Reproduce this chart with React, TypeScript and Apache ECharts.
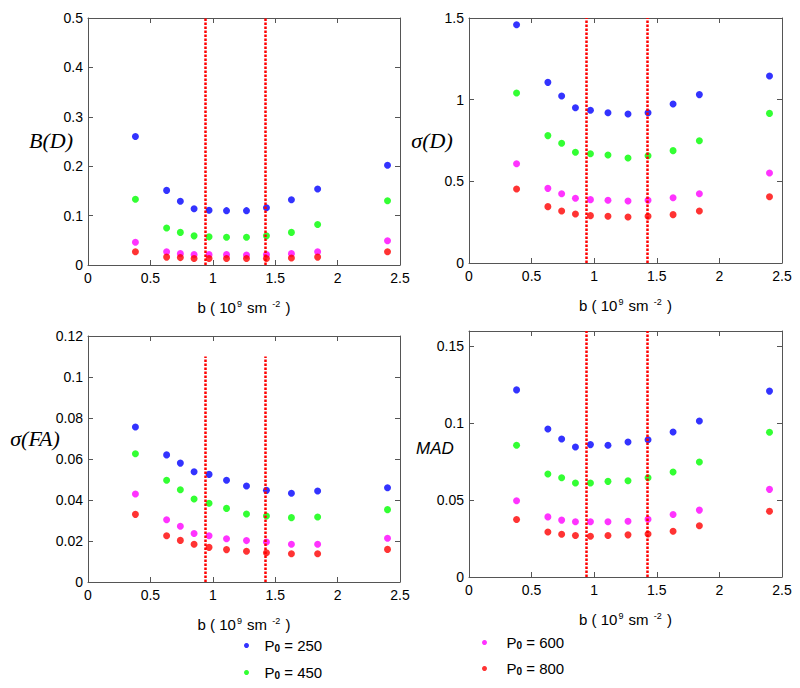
import React, { useEffect, useRef } from "react";
import * as echarts from "echarts";

// b values (10^9 s m^-2)
const bValues = [0.38, 0.63, 0.74, 0.85, 0.97, 1.11, 1.27, 1.43, 1.63, 1.84, 2.4];

const legendNames = ["P0 = 250", "P0 = 450", "P0 = 600", "P0 = 800"];
const colors = ["#0000ff", "#00ff00", "#ff00ff", "#ff0000"];

// B(D)
const biasP250 = [0.26, 0.151, 0.129, 0.114, 0.111, 0.11, 0.11, 0.116, 0.132, 0.154, 0.202];
const biasP450 = [0.133, 0.075, 0.066, 0.059, 0.057, 0.056, 0.056, 0.059, 0.066, 0.082, 0.13];
const biasP600 = [0.046, 0.027, 0.023, 0.021, 0.021, 0.021, 0.02, 0.021, 0.023, 0.027, 0.049];
const biasP800 = [0.027, 0.016, 0.015, 0.013, 0.013, 0.013, 0.013, 0.013, 0.014, 0.016, 0.027];

// sigma(D)
const sdP250 = [1.459, 1.106, 1.022, 0.951, 0.935, 0.92, 0.912, 0.92, 0.973, 1.031, 1.145];
const sdP450 = [1.041, 0.78, 0.733, 0.678, 0.669, 0.661, 0.643, 0.657, 0.688, 0.749, 0.916];
const sdP600 = [0.608, 0.457, 0.424, 0.396, 0.388, 0.384, 0.38, 0.384, 0.4, 0.424, 0.551];
const sdP800 = [0.453, 0.345, 0.318, 0.3, 0.29, 0.286, 0.282, 0.286, 0.296, 0.318, 0.406];

// sigma(FA)
const sfaP250 = [0.0756, 0.062, 0.058, 0.0538, 0.0525, 0.0496, 0.0468, 0.0447, 0.0433, 0.0444, 0.046];
const sfaP450 = [0.0626, 0.0496, 0.045, 0.0405, 0.0384, 0.0359, 0.0332, 0.0322, 0.0314, 0.0317, 0.0353];
const sfaP600 = [0.0429, 0.0304, 0.0272, 0.0237, 0.0226, 0.0211, 0.0202, 0.0195, 0.0184, 0.0184, 0.0213];
const sfaP800 = [0.033, 0.0226, 0.0203, 0.0184, 0.0169, 0.0158, 0.015, 0.0143, 0.0138, 0.0138, 0.0159];

// MAD
const madP250 = [0.1217, 0.0963, 0.0898, 0.0846, 0.0861, 0.0857, 0.0878, 0.0893, 0.0943, 0.1015, 0.1209];
const madP450 = [0.0857, 0.067, 0.0646, 0.0611, 0.0611, 0.0622, 0.0626, 0.0646, 0.0683, 0.0748, 0.0941];
const madP600 = [0.0496, 0.0391, 0.037, 0.0359, 0.0359, 0.0359, 0.0363, 0.0376, 0.0407, 0.0435, 0.057];
const madP800 = [0.0374, 0.0293, 0.0278, 0.027, 0.0265, 0.027, 0.0274, 0.028, 0.0298, 0.0333, 0.0428];

// vertical reference lines (b values)
const refLines = [0.94, 1.42];

// axis settings per panel
const yMax = [0.5, 1.5, 0.12, 0.16];
const yInterval = [0.1, 0.5, 0.02, 0.05];
const refLineTop = [0.5, 1.5, 0.11, 0.16];
const yTitles = ["B(D)", "σ(D)", "σ(FA)", "MAD"];

const panelData = [
  [biasP250, biasP450, biasP600, biasP800],
  [sdP250, sdP450, sdP600, sdP800],
  [sfaP250, sfaP450, sfaP600, sfaP800],
  [madP250, madP450, madP600, madP800],
];

const grids = [
  { left: 88, top: 18, width: 312, height: 247 },
  { left: 469, top: 18, width: 313, height: 245 },
  { left: 88, top: 336, width: 312, height: 246 },
  { left: 469, top: 331, width: 313, height: 246 },
];

const yTitlePos = [
  { x: 51, y: 140, serif: true },
  { x: 432, y: 140, serif: true },
  { x: 35, y: 438, serif: true },
  { x: 435, y: 448, serif: false },
];

const FONT = "Arial, 'Liberation Sans', sans-serif";
const AXIS_COLOR = "#555";

export default function App() {
  const ref = useRef<HTMLDivElement>(null);
  useEffect(() => {
    if (!ref.current) return;
    const chart = echarts.init(ref.current, undefined, { renderer: "svg" });

    const xAxes: any[] = [];
    const yAxes: any[] = [];
    for (let g = 0; g < 4; g++) {
      xAxes.push({
        type: "value",
        gridIndex: g,
        min: 0,
        max: 2.5,
        interval: 0.5,
        position: "bottom",
        name: "{n|b ( 10}{s|9}{n| sm }{s|-2}{n| )}",
        nameLocation: "middle",
        nameGap: 34,
        nameTextStyle: {
          rich: {
            n: { fontFamily: FONT, fontSize: 15, color: "#000" },
            s: { fontFamily: FONT, fontSize: 9, color: "#000", verticalAlign: "top", padding: [0, 1, 8, 1] },
          },
        },
        axisLine: { show: true, onZero: false, lineStyle: { color: AXIS_COLOR } },
        axisTick: { show: true, inside: true, length: 5, lineStyle: { color: AXIS_COLOR } },
        axisLabel: { color: "#000", fontSize: 14, fontFamily: FONT, margin: 6 },
        splitLine: { show: false },
      });
      yAxes.push({
        type: "value",
        gridIndex: g,
        min: 0,
        max: yMax[g],
        interval: yInterval[g],
        position: "left",
        axisLine: { show: true, onZero: false, lineStyle: { color: AXIS_COLOR } },
        axisTick: { show: true, inside: true, length: 5, lineStyle: { color: AXIS_COLOR } },
        axisLabel: { color: "#000", fontSize: 14, fontFamily: FONT, margin: 5, showMaxLabel: g === 3 ? false : true },
        splitLine: { show: false },
      });
    }
    for (let g = 0; g < 4; g++) {
      xAxes.push({
        type: "value",
        gridIndex: g,
        min: 0,
        max: 2.5,
        interval: 0.5,
        position: "top",
        axisLine: { show: true, onZero: false, lineStyle: { color: AXIS_COLOR } },
        axisTick: { show: true, inside: true, length: 5, lineStyle: { color: AXIS_COLOR } },
        axisLabel: { show: false },
        splitLine: { show: false },
      });
      yAxes.push({
        type: "value",
        gridIndex: g,
        min: 0,
        max: yMax[g],
        interval: yInterval[g],
        position: "right",
        axisLine: { show: true, onZero: false, lineStyle: { color: AXIS_COLOR } },
        axisTick: { show: true, inside: true, length: 5, lineStyle: { color: AXIS_COLOR } },
        axisLabel: { show: false },
        splitLine: { show: false },
      });
    }

    const series: any[] = [];
    for (let g = 0; g < 4; g++) {
      series.push({
        type: "line",
        name: "refLines" + g,
        xAxisIndex: g,
        yAxisIndex: g,
        data: [],
        silent: true,
        markLine: {
          silent: true,
          symbol: "none",
          label: { show: false },
          lineStyle: { color: "#ff0000", type: [2.5, 1.5], width: 2.5 },
          data: refLines.map((b) => [
            { coord: [b, 0] },
            { coord: [b, refLineTop[g]] },
          ]),
        },
      });
      for (let s = 0; s < 4; s++) {
        series.push({
          type: "scatter",
          name: legendNames[s],
          xAxisIndex: g,
          yAxisIndex: g,
          symbol: "circle",
          symbolSize: 7,
          itemStyle: { color: colors[s] },
          data: bValues.map((b, i) => [b, panelData[g][s][i]]),
          z: 3,
        });
      }
    }

    const legendPos = [
      { left: 244, top: 638, pad: 0 },
      { left: 244, top: 665, pad: 0 },
      { left: 482, top: 635, pad: 4 },
      { left: 482, top: 661, pad: 4 },
    ];
    const legends = legendNames.map((n, i) => ({
      data: [n],
      left: legendPos[i].left,
      top: legendPos[i].top,
      icon: "circle",
      itemWidth: 26,
      itemHeight: 5,
      itemGap: 0,
      selectedMode: false,
      padding: 0,
      formatter: (name: string) => `{p|P}{s|0}{p|${name.slice(2)}}`,
      textStyle: {
        padding: [0, 0, 0, legendPos[i].pad],
        rich: {
          p: { fontFamily: FONT, fontSize: 15, color: "#000" },
          s: { fontFamily: FONT, fontSize: 10, fontWeight: "bold", color: "#000", verticalAlign: "bottom", padding: [6, 0, 0, 0] },
        },
      },
    }));

    const graphics = yTitles.map((t, i) => ({
      type: "text",
      x: yTitlePos[i].x,
      y: yTitlePos[i].y,
      style: {
        text: t,
        textAlign: "center",
        textVerticalAlign: "middle",
        fontFamily: yTitlePos[i].serif ? "'Liberation Serif', 'Times New Roman', serif" : FONT,
        fontStyle: "italic",
        fontSize: yTitlePos[i].serif ? 22 : 17,
        fill: "#000",
      },
    }));

    chart.setOption({
      animation: false,
      backgroundColor: "#fff",
      grid: grids.map((g) => ({ ...g, containLabel: false })),
      xAxis: xAxes,
      yAxis: yAxes,
      legend: legends,
      graphic: graphics,
      series,
    });
    return () => chart.dispose();
  }, []);
  return (
    <div
      ref={ref}
      style={{ position: "fixed", left: 0, top: 0, width: 800, height: 688, background: "#fff" }}
    />
  );
}
